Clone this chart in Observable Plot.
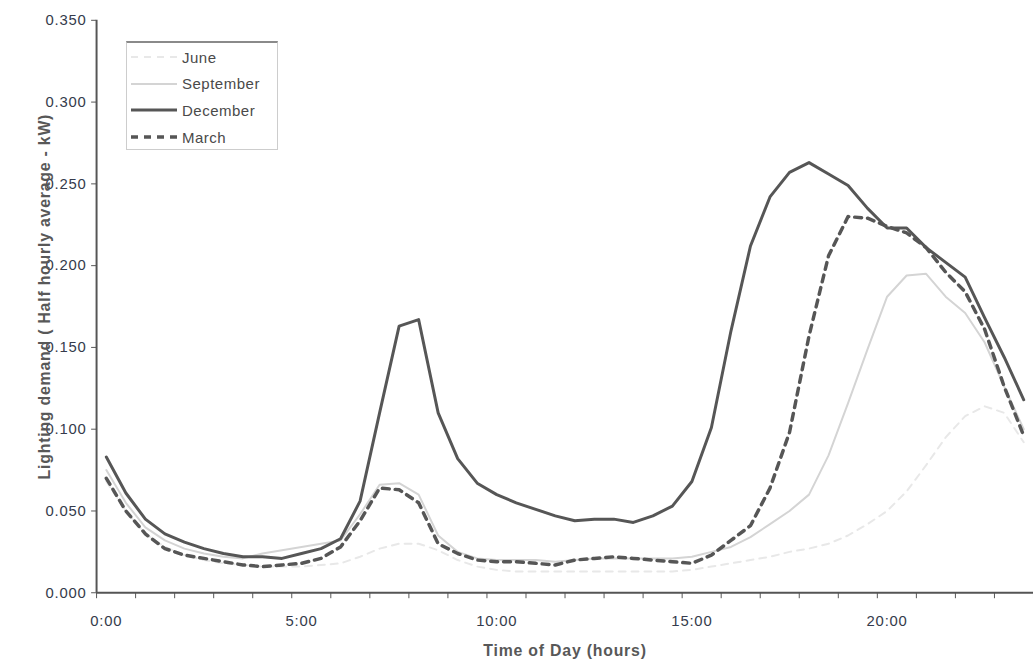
<!DOCTYPE html>
<html>
<head>
<meta charset="utf-8">
<script src="https://cdn.jsdelivr.net/npm/d3@7"></script>
<script src="https://cdn.jsdelivr.net/npm/@observablehq/plot@0.6"></script>
<style>
  html, body { margin: 0; padding: 0; background: #fff; }
  #wrap { position: relative; width: 1033px; height: 668px; overflow: hidden; }
  #legend {
    position: absolute; left: 126px; top: 41px; width: 152px; height: 109px;
    border: 1px solid #cdcdcd; border-top: 2px solid #8a8a8a; box-sizing: border-box;
    background: #fff; font-family: "Liberation Sans", Arial, sans-serif; font-size: 15px;
    letter-spacing: 0.5px; color: #4a4a4a;
  }
  #legend .row { position: absolute; left: 3px; height: 20px; display: flex; align-items: center; }
  #legend svg { width: 48px; height: 8px; margin-right: 4px; }
</style>
</head>
<body>
<div id="wrap">
  <div id="chart"></div>
  <div id="legend"></div>
</div>
<script>
// Half-hourly slots across the day
const slots = d3.range(48).map(i => `${Math.floor(i / 2)}:${i % 2 ? "30" : "00"}`);

// Average lighting demand per half hour (kW)
const june = [0.068, 0.050, 0.036, 0.028, 0.023, 0.020, 0.018, 0.017, 0.016, 0.016, 0.016, 0.017,
  0.018, 0.022, 0.027, 0.030, 0.030, 0.026, 0.020, 0.016, 0.014, 0.013, 0.013, 0.013,
  0.013, 0.013, 0.013, 0.013, 0.013, 0.013, 0.014, 0.016, 0.018, 0.020, 0.022, 0.025,
  0.027, 0.030, 0.035, 0.042, 0.050, 0.062, 0.078, 0.095, 0.108, 0.114, 0.110, 0.092];
const september = [0.075, 0.055, 0.040, 0.032, 0.027, 0.024, 0.022, 0.021, 0.024, 0.026, 0.028, 0.030,
  0.032, 0.048, 0.066, 0.067, 0.060, 0.035, 0.025, 0.021, 0.020, 0.020, 0.020, 0.019,
  0.020, 0.021, 0.021, 0.021, 0.021, 0.021, 0.022, 0.025, 0.028, 0.034, 0.042, 0.050,
  0.060, 0.084, 0.116, 0.149, 0.181, 0.194, 0.195, 0.181, 0.171, 0.153, 0.126, 0.100];
const december = [0.083, 0.061, 0.045, 0.036, 0.031, 0.027, 0.024, 0.022, 0.022, 0.021, 0.024, 0.027,
  0.033, 0.056, 0.110, 0.163, 0.167, 0.110, 0.082, 0.067, 0.060, 0.055, 0.051, 0.047,
  0.044, 0.045, 0.045, 0.043, 0.047, 0.053, 0.068, 0.101, 0.160, 0.212, 0.242, 0.257,
  0.263, 0.256, 0.249, 0.235, 0.223, 0.223, 0.211, 0.202, 0.193, 0.168, 0.144, 0.118];
const march = [0.070, 0.050, 0.036, 0.027, 0.023, 0.021, 0.019, 0.017, 0.016, 0.017, 0.018, 0.021,
  0.028, 0.044, 0.064, 0.063, 0.055, 0.030, 0.024, 0.020, 0.019, 0.019, 0.018, 0.017,
  0.020, 0.021, 0.022, 0.021, 0.020, 0.019, 0.018, 0.023, 0.032, 0.041, 0.064, 0.098,
  0.157, 0.206, 0.230, 0.229, 0.224, 0.220, 0.211, 0.196, 0.184, 0.161, 0.126, 0.096];

const seriesNames = ["June", "September", "December", "March"];
const seriesValues = [june, september, december, march];
const seriesStyles = {
  June:      {stroke: "#e8e8e8", width: 2,   dash: "7,6"},
  September: {stroke: "#d4d4d4", width: 2,   dash: null},
  December:  {stroke: "#565656", width: 3,   dash: null},
  March:     {stroke: "#565656", width: 3.5, dash: "7,6"}
};

// Axis labels
const xLabelHours = [0, 5, 10, 15, 20];
const xLabels = ["0:00", "5:00", "10:00", "15:00", "20:00"];
const yTicks = [0, 0.05, 0.1, 0.15, 0.2, 0.25, 0.3, 0.35];

// Each half-hour value sits in the middle of its slot; hour tick marks fall on slot edges
const hourOf = i => i * 0.5;
const tickEdges = d3.range(25).map(k => k - 0.25);

const rows = seriesNames.flatMap((name, s) =>
  seriesValues[s].map((v, i) => ({series: name, slot: slots[i], hour: hourOf(i), value: v})));

const font = "'Liberation Sans', Arial, sans-serif";
const lineMark = name => Plot.line(rows.filter(d => d.series === name), {
  x: "hour", y: "value",
  stroke: seriesStyles[name].stroke,
  strokeWidth: seriesStyles[name].width,
  strokeDasharray: seriesStyles[name].dash,
  strokeLinejoin: "round"
});

const chart = Plot.plot({
  width: 1043,
  height: 668,
  marginLeft: 97,
  marginRight: 0,
  marginTop: 20,
  marginBottom: 70,
  style: {fontFamily: font, fontSize: "15px", color: "#353b4c", background: "#fff", letterSpacing: "0.8px"},
  x: {domain: [-0.25, 23.75]},
  y: {domain: [0, 0.35]},
  marks: [
    // lightest series first so the dark ones sit on top
    lineMark("June"),
    lineMark("September"),
    lineMark("March"),
    lineMark("December"),
    Plot.ruleX([-0.25], {stroke: "#555", strokeWidth: 2}),
    Plot.ruleY([0], {stroke: "#555", strokeWidth: 2}),
    Plot.axisY({ticks: yTicks, tickFormat: d3.format(".3f"), tickSize: 5, tickPadding: 5,
      stroke: "#555", fontSize: 15, label: null}),
    Plot.axisX({ticks: tickEdges, tickFormat: () => "", tickSize: 6, stroke: "#555", label: null}),
    Plot.axisX({ticks: xLabelHours, tickFormat: d => xLabels[xLabelHours.indexOf(d)],
      tickSize: 0, tickPadding: 23, fontSize: 15, label: null}),
    Plot.text(["Lighting demand ( Half hourly average - kW)"], {
      frameAnchor: "left", textAnchor: "middle", dx: -52, dy: -10, rotate: -90,
      fontSize: 16, fontWeight: "bold", fill: "#585858"
    }),
    Plot.text(["Time of Day (hours)"], {
      frameAnchor: "bottom", dy: 64, fontSize: 16, fontWeight: "bold", fill: "#585858"
    })
  ]
});
document.getElementById("chart").appendChild(chart);

// Legend box inside the plot area
const legend = document.getElementById("legend");
seriesNames.forEach((name, i) => {
  const st = seriesStyles[name];
  const row = document.createElement("div");
  row.className = "row";
  row.style.top = (4 + i * 26.7) + "px";
  row.innerHTML = `<svg viewBox="0 0 48 8"><line x1="1" y1="4" x2="47" y2="4" stroke="${st.stroke}"
    stroke-width="${st.width}" ${st.dash ? `stroke-dasharray="${st.dash}"` : ""}/></svg><span>${name}</span>`;
  legend.appendChild(row);
});
</script>
</body>
</html>
